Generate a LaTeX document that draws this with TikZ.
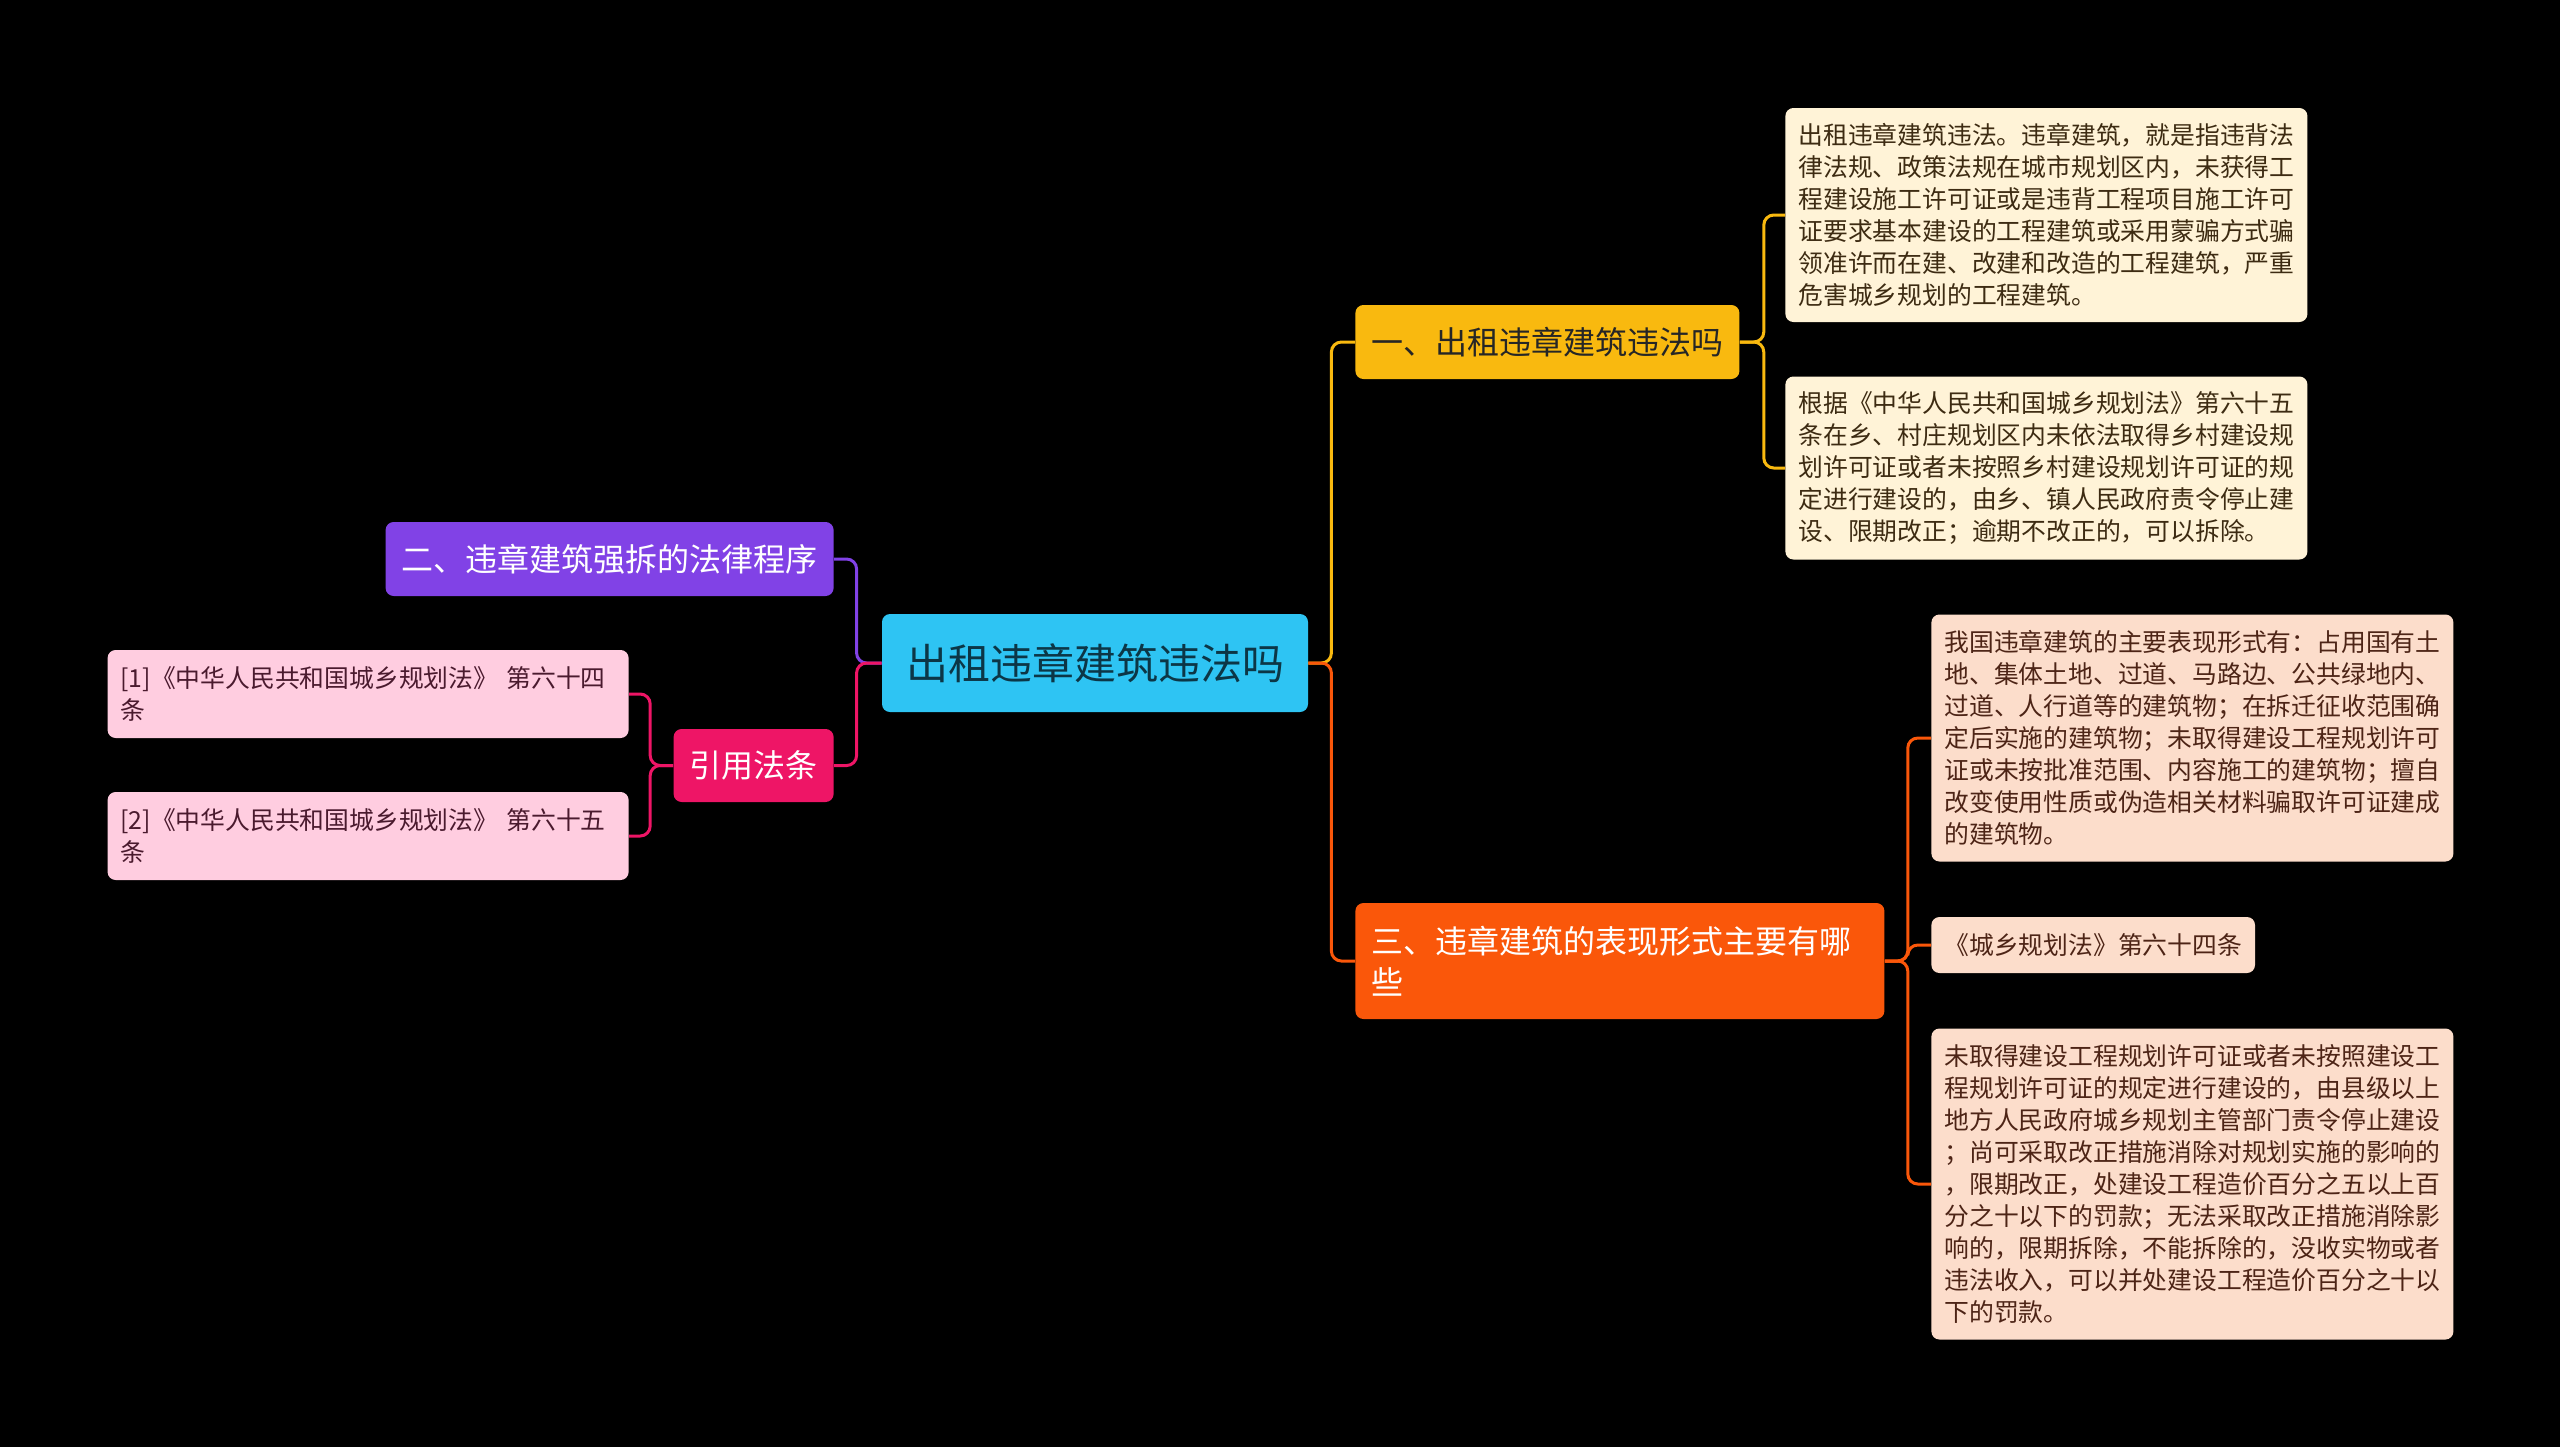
\documentclass[tikz,border=0pt]{standalone}
\usepackage{fontspec}
\setmainfont{Noto Sans CJK SC}
\definecolor{rootc}{HTML}{2EC4F3}
\definecolor{amberc}{HTML}{F9B90F}
\definecolor{orangec}{HTML}{FA570A}
\definecolor{purplec}{HTML}{8142E6}
\definecolor{magentac}{HTML}{EE1566}
\definecolor{creamc}{HTML}{FFF3D7}
\definecolor{peachc}{HTML}{FCDDCB}
\definecolor{pinkc}{HTML}{FFCDE0}
\definecolor{roottxt}{HTML}{0C3646}
\definecolor{creamtxt}{HTML}{3D2B12}
\definecolor{peachtxt}{HTML}{4D2416}
\definecolor{pinktxt}{HTML}{4A1A2E}
\begin{document}
\begin{tikzpicture}[x=1pt, y=-1pt,
    box/.style={rounded corners=4pt, inner ysep=2pt},
    topic/.style={box, minimum height=37pt, inner xsep=8pt, font=\fontsize{16}{20.4}\selectfont},
    leaf/.style={box, align=left, inner xsep=6.5pt, text width=248pt, font=\fontsize{12.4}{16}\selectfont},
    link/.style={line width=1.5pt, rounded corners=5pt}]
    \fill[black] (0,0) rectangle (1280,723.5);
    \node[box, fill=rootc, text=roottxt, minimum width=213pt, minimum height=49pt, font=\fontsize{21}{25}\selectfont] (root) at (547.5,331.5) {出租违章建筑违法吗};
    \node[topic, fill=amberc, text=black!85, anchor=west, minimum width=192pt] (b1) at (677.5,171) {一、出租违章建筑违法吗};
    \node[topic, fill=purplec, text=white, anchor=east, minimum width=223.5pt] (b2) at (417,279.5) {二、违章建筑强拆的法律程序};
    \node[topic, fill=magentac, text=white, anchor=east, minimum width=79pt, minimum height=36.5pt] (cite) at (417,382.75) {引用法条};
    \node[topic, fill=orangec, text=white, anchor=west, align=left, text width=248.5pt, minimum height=58pt] (b3) at (677.5,480.5) {三、违章建筑的表现形式主要有哪\\些};
    \node[leaf, fill=creamc, text=creamtxt, anchor=west, minimum height=107pt] (l1) at (892.5,107.5) {出租违章建筑违法。违章建筑，就是指违背法\\律法规、政策法规在城市规划区内，未获得工\\程建设施工许可证或是违背工程项目施工许可\\证要求基本建设的工程建筑或采用蒙骗方式骗\\领准许而在建、改建和改造的工程建筑，严重\\危害城乡规划的工程建筑。};
    \node[leaf, fill=creamc, text=creamtxt, anchor=west, minimum height=91.5pt] (l2) at (892.5,234) {根据《中华人民共和国城乡规划法》第六十五\\条在乡、村庄规划区内未依法取得乡村建设规\\划许可证或者未按照乡村建设规划许可证的规\\定进行建设的，由乡、镇人民政府责令停止建\\设、限期改正；逾期不改正的，可以拆除。};
    \node[leaf, fill=peachc, text=peachtxt, anchor=west, minimum height=123.5pt] (l3) at (965.5,369) {我国违章建筑的主要表现形式有：占用国有土\\地、集体土地、过道、马路边、公共绿地内、\\过道、人行道等的建筑物；在拆迁征收范围确\\定后实施的建筑物；未取得建设工程规划许可\\证或未按批准范围、内容施工的建筑物；擅自\\改变使用性质或伪造相关材料骗取许可证建成\\的建筑物。};
    \node[leaf, fill=peachc, text=peachtxt, anchor=west, text width={}, minimum width=161pt, minimum height=28pt] (l4) at (965.5,472.5) {《城乡规划法》第六十四条};
    \node[leaf, fill=peachc, text=peachtxt, anchor=west, minimum height=155.5pt] (l5) at (965.5,592) {未取得建设工程规划许可证或者未按照建设工\\程规划许可证的规定进行建设的，由县级以上\\地方人民政府城乡规划主管部门责令停止建设\\；尚可采取改正措施消除对规划实施的影响的\\，限期改正，处建设工程造价百分之五以上百\\分之十以下的罚款；无法采取改正措施消除影\\响的，限期拆除，不能拆除的，没收实物或者\\违法收入，可以并处建设工程造价百分之十以\\下的罚款。};
    \node[leaf, fill=pinkc, text=pinktxt, anchor=east, text width=247.5pt, minimum height=44pt, font=\fontsize{12.4}{16.3}\selectfont] (r1) at (314.5,347) {[1]《中华人民共和国城乡规划法》 第六十四\\条};
    \node[leaf, fill=pinkc, text=pinktxt, anchor=east, text width=247.5pt, minimum height=44pt, font=\fontsize{12.4}{16.3}\selectfont] (r2) at (314.5,418) {[2]《中华人民共和国城乡规划法》 第六十五\\条};
    \draw[link, amberc] (root.east) -- ++(11.5,0) |- (b1.west);
    \draw[link, orangec] (root.east) -- ++(11.5,0) |- (b3.west);
    \draw[link, purplec] (root.west) -- ++(-12.5,0) |- (b2.east);
    \draw[link, magentac] (root.west) -- ++(-12.5,0) |- (cite.east);
    \foreach \n in {l1,l2}
        \draw[link, amberc] (b1.east) -- ++(12,0) |- (\n.west);
    \foreach \n in {l3,l4,l5}
        \draw[link, orangec] (b3.east) -- ++(11.5,0) |- (\n.west);
    \foreach \n in {r1,r2}
        \draw[link, magentac] (cite.west) -- ++(-11.5,0) |- (\n.east);
\end{tikzpicture}
\end{document}
